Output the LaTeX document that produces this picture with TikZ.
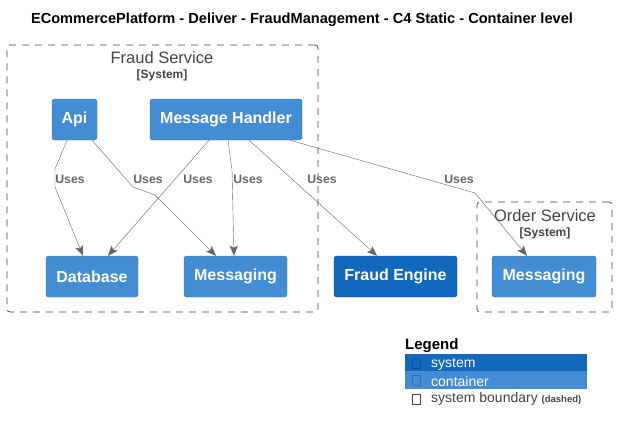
\documentclass[tikz,border=0pt]{standalone}
\usepackage{fontspec}
\setmainfont{Liberation Sans}
\usetikzlibrary{arrows.meta, positioning}
\definecolor{containerblue}{HTML}{438DD5}
\definecolor{systemblue}{HTML}{1168BD}
\definecolor{linegray}{HTML}{666666}
\definecolor{boundgray}{HTML}{444444}
\tikzstyle{container} = [rectangle, rounded corners=2.5pt, minimum height=41pt, text centered, text=white, draw=containerblue!85!black, fill=containerblue, font=\bfseries\fontsize{16}{18}\selectfont]
\tikzstyle{system} = [container, draw=systemblue!85!black, fill=systemblue]
\tikzstyle{boundary} = [rectangle, rounded corners=3pt, draw=boundgray, dash pattern=on 7pt off 6pt, line width=0.7pt]
\tikzstyle{boundtitle} = [text=boundgray, font=\fontsize{16.5}{18}\selectfont, inner sep=0pt]
\tikzstyle{boundtag} = [text=boundgray, font=\bfseries\fontsize{12}{14}\selectfont, inner sep=0pt]
\tikzstyle{arrow} = [linegray, ->, >={Stealth[length=10pt,width=8pt,inset=2pt]}]
\tikzstyle{uses} = [text=linegray, font=\bfseries\fontsize{12.3}{14}\selectfont, inner sep=0pt]
\tikzstyle{legendrow} = [rectangle, minimum width=182pt, minimum height=17.5pt, inner sep=0pt, text=white, font=\fontsize{14}{16}\selectfont]
\tikzstyle{glyph} = [rectangle, minimum width=8pt, minimum height=10pt, inner sep=0pt, draw]

\begin{document}
\begin{tikzpicture}[x=1pt, y=-1pt]
    \useasboundingbox (0,0) rectangle (617,433);

    \node (title) at (302,20) {\bfseries\fontsize{14.6}{16}\selectfont ECommercePlatform - Deliver - FraudManagement - C4 Static - Container level};

    % boundaries
    \node (fraudsvc) [boundary, minimum width=311pt, minimum height=267pt] at (162.5,178.5) {};
    \node (fraudname) [boundtitle] at (162,58) {Fraud Service};
    \node (fraudtag) [boundtag, below=5pt of fraudname] {[System]};
    \node (ordersvc) [boundary, minimum width=135pt, minimum height=110pt] at (544.5,257) {};
    \node (ordername) [boundtitle] at (545,216) {Order Service};
    \node (ordertag) [boundtag, below=5pt of ordername] {[System]};

    % containers
    \node (api) [container, minimum width=45pt] at (74.5,119.5) {Api};
    \node (handler) [container, minimum width=152pt] at (226,119.5) {Message Handler};
    \node (database) [container, minimum width=92pt] at (92,276.5) {Database};
    \node (messaging) [container, minimum width=103pt] at (235.5,276.5) {Messaging};
    \node (engine) [system, minimum width=123pt] at (395.5,276.5) {Fraud Engine};
    \node (ordermsg) [container, minimum width=104pt] at (544,276.5) {Messaging};

    % relations
    \draw [arrow] ([xshift=-7.5pt]api.south) -- (55,169) -- (55,187) -- ([xshift=-9pt]database.north) node[uses] at (70,179) {Uses};
    \draw [arrow] ([xshift=17.5pt]api.south) -- (133,187) -- (155,195) -- ([xshift=-19.5pt]messaging.north) node[uses] at (148,179) {Uses};
    \draw [arrow] ([xshift=-17pt]handler.south) -- ([xshift=16pt]database.north) node[uses] at (198,179) {Uses};
    \draw [arrow] ([xshift=2pt]handler.south) -- (232,170) -- ([xshift=-1.5pt]messaging.north) node[uses] at (248,179) {Uses};
    \draw [arrow] ([xshift=23pt]handler.south) -- ([xshift=-18.5pt]engine.north) node[uses] at (322,179) {Uses};
    \draw [arrow] ([xshift=64pt]handler.south) -- (475,193) -- ([xshift=-17pt]ordermsg.north) node[uses] at (459,179) {Uses};

    % legend
    \node (legend) [anchor=west, inner sep=0pt, font=\bfseries\fontsize{15}{16}\selectfont] at (405,346) {Legend};
    \node (legsystem) [legendrow, fill=systemblue] at (496,362.5) {};
    \node (legcontainer) [legendrow, fill=containerblue] at (496,380) {};
    \node (glyphsystem) [glyph, draw=systemblue!80!black] at (416.5,363) {};
    \node (glyphcontainer) [glyph, draw=containerblue!80!black] at (416.5,380.5) {};
    \node (glyphboundary) [glyph, draw=boundgray] at (416.5,399) {};
    \node (txtsystem) [anchor=west, inner sep=0pt, text=white, font=\fontsize{14}{16}\selectfont] at (431,364) {system};
    \node (txtcontainer) [anchor=west, inner sep=0pt, text=white, font=\fontsize{14}{16}\selectfont] at (431,381) {container};
    \node (txtboundary) [anchor=west, inner sep=0pt, text=boundgray, font=\fontsize{14}{16}\selectfont] at (431,399) {system boundary {\bfseries\fontsize{9.5}{10}\selectfont (dashed)}};

\end{tikzpicture}
\end{document}
